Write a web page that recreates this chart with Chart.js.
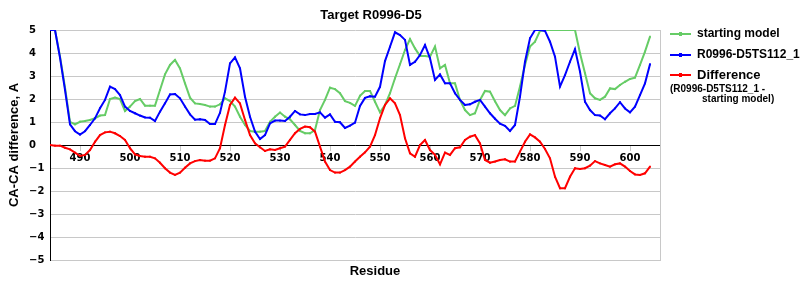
<!DOCTYPE html>
<html>
<head>
<meta charset="utf-8">
<script src="https://cdn.jsdelivr.net/npm/chart.js@4/dist/chart.umd.min.js"></script>
<style>
	body { margin: 0; background: #fff; }
	#chart_box { position: relative; width: 800px; height: 300px; }
</style>
</head>
<body>
<div id="chart_box"><canvas id="diff_chart" width="800" height="300"></canvas></div>
<script>
// CHART TEXTS
const chart_title = "Target R0996-D5";
const x_title = "Residue";
const y_title = "CA-CA difference, A";
const series_names = ["starting model", "R0996-D5TS112_1", "Difference"];
const difference_note = ["(R0996-D5TS112_1 -", "starting model)"];

// TICK LABELS
const x_ticks = [490, 500, 510, 520, 530, 540, 550, 560, 570, 580, 590, 600];
const y_ticks = [-5, -4, -3, -2, -1, 0, 1, 2, 3, 4, 5];

// RESIDUES (X VALUES)
const residues = [
	484, 485, 486, 487, 488, 489, 490, 491, 492, 493, 494, 495, 496, 497, 498, 499,
	500, 501, 502, 503, 504, 505, 506, 507, 508, 509, 510, 511, 512, 513, 514, 515,
	516, 517, 518, 519, 520, 521, 522, 523, 524, 525, 526, 527, 528, 529, 530, 531,
	532, 533, 534, 535, 536, 537, 538, 539, 540, 541, 542, 543, 544, 545, 546, 547,
	548, 549, 550, 551, 552, 553, 554, 555, 556, 557, 558, 559, 560, 561, 562, 563,
	564, 565, 566, 567, 568, 569, 570, 571, 572, 573, 574, 575, 576, 577, 578, 579,
	580, 581, 582, 583, 584, 585, 586, 587, 588, 589, 590, 591, 592, 593, 594, 595,
	596, 597, 598, 599, 600, 601, 602, 603, 604
];

// STARTING MODEL
const starting_model = [
	5.0, 5.0, 3.85, 2.5, 1.01, 0.9, 1.01, 1.04, 1.09, 1.16, 1.28, 1.3, 2.0, 2.06, 2.0, 1.48,
	1.67, 1.91, 2.0, 1.71, 1.71, 1.71, 2.39, 3.07, 3.48, 3.7, 3.33, 2.68, 2.06, 1.81, 1.78, 1.74,
	1.67, 1.67, 1.77, 2.03, 1.91, 1.67, 1.23, 0.87, 0.61, 0.58, 0.58, 0.61, 1.01, 1.23, 1.41, 1.23,
	1.12, 0.87, 0.61, 0.51, 0.51, 0.65, 1.52, 1.96, 2.49, 2.43, 2.25, 1.91, 1.83, 1.7, 2.14, 2.35,
	2.35, 1.88, 1.42, 1.74, 2.25, 2.9, 3.51, 4.13, 4.61, 4.2, 3.87, 3.87, 3.84, 4.28, 3.33, 3.48,
	2.68, 2.68, 1.96, 1.52, 1.3, 1.38, 1.96, 2.35, 2.32, 1.9, 1.52, 1.3, 1.59, 1.7, 2.54, 3.48,
	4.28, 4.49, 4.96, 5.0, 5.0, 5.0, 5.0, 5.0, 5.0, 5.0, 3.99, 3.12, 2.25, 2.03, 1.96, 2.1,
	2.46, 2.43, 2.61, 2.75, 2.87, 2.93, 3.48, 4.06, 4.71
];

// R0996-D5TS112_1
const model_112 = [
	5.0, 5.0, 3.8, 2.4, 0.9, 0.6, 0.45, 0.6, 0.87, 1.16, 1.6, 1.96, 2.54, 2.43, 2.17, 1.67,
	1.48, 1.38, 1.28, 1.2, 1.19, 1.04, 1.45, 1.81, 2.2, 2.22, 2.03, 1.67, 1.33, 1.1, 1.12, 1.09,
	0.91, 0.91, 1.4, 2.32, 3.55, 3.81, 3.33, 2.1, 1.23, 0.58, 0.26, 0.43, 0.94, 1.06, 1.06, 1.04,
	1.23, 1.48, 1.33, 1.3, 1.35, 1.35, 1.42, 1.19, 1.33, 1.01, 0.99, 0.74, 0.84, 0.97, 1.7, 2.05,
	2.12, 2.1, 2.53, 3.65, 4.27, 4.9, 4.78, 4.57, 3.48, 3.62, 3.91, 4.35, 3.77, 2.83, 3.07, 2.68,
	2.68, 2.25, 1.96, 1.74, 1.77, 1.88, 1.96, 1.67, 1.38, 1.14, 0.93, 0.83, 0.61, 0.87, 2.1, 3.62,
	4.64, 5.0, 5.0, 4.96, 4.49, 3.84, 2.54, 3.04, 3.62, 4.17, 3.19, 1.88, 1.52, 1.3, 1.28, 1.12,
	1.38, 1.59, 1.86, 1.59, 1.42, 1.67, 2.17, 2.68, 3.51
];

// DIFFERENCE (R0996-D5TS112_1 - STARTING MODEL)
const difference = [
	0, -0.03, -0.03, -0.12, -0.19, -0.33, -0.48, -0.43, -0.22, 0.14, 0.43, 0.55, 0.58, 0.51, 0.39, 0.22,
	-0.14, -0.41, -0.48, -0.51, -0.51, -0.58, -0.77, -1.01, -1.2, -1.3, -1.2, -0.99, -0.8, -0.7, -0.65, -0.68,
	-0.68, -0.58, -0.14, 0.87, 1.74, 2.06, 1.81, 1.09, 0.43, 0.07, -0.1, -0.26, -0.19, -0.22, -0.14, -0.07,
	0.22, 0.51, 0.7, 0.8, 0.77, 0.58, -0.07, -0.72, -1.09, -1.2, -1.2, -1.09, -0.94, -0.72, -0.51, -0.32,
	-0.07, 0.43, 1.16, 1.74, 2.03, 1.81, 1.3, 0.29, -0.36, -0.51, 0, 0.22, -0.22, -0.43, -0.84, -0.33,
	-0.43, -0.14, -0.1, 0.22, 0.36, 0.43, 0.07, -0.65, -0.77, -0.72, -0.65, -0.62, -0.72, -0.72, -0.29, 0.14,
	0.46, 0.33, 0.14, -0.17, -0.58, -1.38, -1.88, -1.88, -1.38, -1.01, -1.04, -1.01, -0.9, -0.7, -0.8, -0.87,
	-0.94, -0.84, -0.8, -0.94, -1.13, -1.28, -1.3, -1.23, -0.94
];

const series_values = [starting_model, model_112, difference];
const series_colors = ["#66cc66", "#0000ff", "#ff0000"];

const label_font = "'DejaVu Sans', Verdana, sans-serif";
const text_font = "'Liberation Sans', Arial, sans-serif";

// TITLE, X TITLE AND LEGEND ARE DRAWN ON THE CANVAS
const text_plugin = {
	id: "text_plugin",
	afterDraw(chart) {
		const ctx = chart.ctx;
		ctx.save();
		ctx.fillStyle = "#000";
		ctx.textBaseline = "middle";
		ctx.textAlign = "center";
		ctx.font = "bold 13px " + text_font;
		ctx.fillText(chart_title, 371, 15);
		ctx.fillText(x_title, 375, 271);

		// legend
		const rows = [34, 55, 75];
		series_names.forEach((name, i) => {
			const y = rows[i];
			ctx.strokeStyle = series_colors[i];
			ctx.fillStyle = series_colors[i];
			ctx.lineWidth = 2;
			ctx.beginPath();
			ctx.moveTo(670, y);
			ctx.lineTo(691, y);
			ctx.stroke();
			ctx.fillRect(679, y - 2, 3, 4);
			ctx.fillStyle = "#000";
			ctx.textAlign = "left";
			ctx.font = "bold " + (i == 2 ? 13 : 12) + "px " + text_font;
			ctx.fillText(name, 697, y);
		});
		ctx.font = "bold 10px " + text_font;
		ctx.fillText(difference_note[0], 670, 89);
		ctx.fillText(difference_note[1], 702, 99);
		ctx.restore();
	}
};

const ctx = document.getElementById("diff_chart").getContext("2d");

const datasets = series_names.map((name, i) => ({
	label: name,
	data: residues.map((r, k) => ({x: r, y: series_values[i][k]})),
	borderColor: series_colors[i],
	backgroundColor: series_colors[i],
	borderWidth: 2,
	pointStyle: "rect",
	pointRadius: 1.3,
	pointBorderWidth: 0,
	pointHoverRadius: 0,
	tension: 0,
	order: 2 - i
}));

const my_chart = new Chart(ctx, {
	type: "line",
	data: { datasets: datasets },
	plugins: [text_plugin],
	options: {
		responsive: false,
		animation: false,
		devicePixelRatio: 1,
		layout: { padding: { left: 29, right: 140, top: 0, bottom: 0 } },
		plugins: {
			legend: { display: false },
			title: { display: false },
			tooltip: { enabled: false }
		},
		scales: {
			x: {
				type: "linear",
				position: { y: 0 },
				min: 484,
				max: 606,
				afterBuildTicks: s => { s.ticks = x_ticks.map(v => ({value: v})); },
				grid: { drawOnChartArea: false, drawTicks: true, tickLength: 5, color: "#c8c8c8" },
				border: { display: true, color: "#000", width: 1 },
				ticks: {
					maxRotation: 0,
					padding: 2,
					color: "#000",
					font: { family: label_font, size: 10, weight: "bold" }
				}
			},
			y: {
				type: "linear",
				position: "left",
				min: -5,
				max: 5,
				afterBuildTicks: s => { s.ticks = y_ticks.map(v => ({value: v})); },
				afterFit: s => { s.width = 21; },
				grid: { color: "#c8c8c8", drawTicks: false },
				border: { display: true, color: "#000", width: 1 },
				ticks: {
					crossAlign: "far",
					padding: 4,
					color: "#000",
					font: { family: label_font, size: 10, weight: "bold" },
					callback: v => v < 0 ? "\u2212" + Math.abs(v) : String(v)
				},
				title: {
					display: true,
					text: y_title,
					color: "#000",
					padding: { top: -22, bottom: 0 },
					font: { family: text_font, size: 13, weight: "bold" }
				}
			},
			y_right: {
				type: "linear",
				position: "right",
				min: 0,
				max: 1,
				afterFit: s => { s.width = 0; },
				grid: { display: false },
				ticks: { display: false },
				border: { display: true, color: "#c8c8c8", width: 1 }
			},
			x_top: {
				type: "linear",
				position: "top",
				min: 0,
				max: 1,
				afterFit: s => { s.height = 30; },
				grid: { display: false },
				ticks: { display: false },
				border: { display: false }
			},
			x_bottom: {
				type: "linear",
				position: "bottom",
				min: 0,
				max: 1,
				afterFit: s => { s.height = 40; },
				grid: { display: false },
				ticks: { display: false },
				border: { display: false }
			}
		}
	}
});
</script>
</body>
</html>
